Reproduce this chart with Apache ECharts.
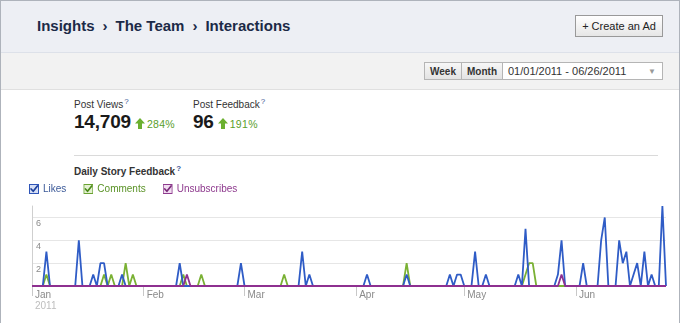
<!DOCTYPE html>
<html>
<head>
<meta charset="utf-8">
<script src="https://cdn.jsdelivr.net/npm/echarts@6/dist/echarts.min.js"></script>
<style>
  html, body { margin: 0; padding: 0; width: 680px; height: 323px; overflow: hidden; background: #fff;
    font-family: "Liberation Sans", Arial, sans-serif; }
  #page { position: absolute; left: 0; top: 0; width: 678px; height: 330px; border: 1px solid #aeb3bb; }
  #header { position: absolute; left: 0; top: 0; width: 678px; height: 51px; background: #edeff4;
    border-bottom: 1px solid #dde1e9; }
  #crumbs { position: absolute; left: 36px; top: 16px; font-size: 15px; font-weight: bold; color: #1c2a47;
    white-space: nowrap; }
  #crumbs .sep { font-weight: bold; margin: 0 8px; }
  #adBtn { position: absolute; left: 574px; top: 14px; width: 86px; height: 20px; border: 1px solid #999;
    background: linear-gradient(#ffffff, #e6e6e6); font-size: 11px; color: #222; text-align: center;
    line-height: 20px; box-sizing: content-box; }
  #toolbar { position: absolute; left: 0; top: 52px; width: 678px; height: 36px; background: #f2f2f2;
    border-bottom: 1px solid #e0e0e0; }
  .tb { position: absolute; top: 9px; height: 18px; border: 1px solid #b5b5b5; background: linear-gradient(#f7f7f7,#e3e3e3);
    font-size: 10px; font-weight: bold; color: #333; line-height: 18px; text-align: center; box-sizing: border-box; }
  #wk { left: 423px; width: 38px; }
  #mo { left: 460px; width: 42px; }
  #range { position: absolute; left: 501px; top: 9px; width: 161px; height: 18px; border: 1px solid #b5b5b5;
    background: #fff; font-size: 11px; color: #333; line-height: 17px; box-sizing: border-box; padding-left: 5px; }
  #range .arr { position: absolute; right: 6px; top: 0; font-size: 8px; color: #999; }
  .stat { position: absolute; top: 96px; }
  .stat .lbl { font-size: 10px; color: #333; white-space: nowrap; }
  .q { font-size: 8px; color: #3b5998; vertical-align: 4px; margin-left: 1px; }
  .stat .val { position: absolute; left: 0; top: 14px; font-size: 19px; font-weight: bold; color: #1a1a1a;
    white-space: nowrap; letter-spacing: -0.2px; }
  .up { display: inline-block; width: 10px; height: 11px; margin-left: 4px; vertical-align: -1px; }
  .pct { font-size: 10.5px; font-weight: normal; color: #5a9e2a; margin-left: 2px; letter-spacing: 0.3px; }
  #rule { position: absolute; left: 73px; top: 154px; width: 584px; height: 1px; background: #dadada; }
  #dsf { position: absolute; left: 73px; top: 163px; font-size: 10px; font-weight: bold; color: #333; white-space: nowrap; }
  #chart { position: absolute; left: 0; top: 178px; width: 680px; height: 145px; }
</style>
</head>
<body>
<div id="page">
  <div id="header">
    <div id="crumbs">Insights<span class="sep">›</span>The Team<span class="sep">›</span>Interactions</div>
    <div id="adBtn">+ Create an Ad</div>
  </div>
  <div id="toolbar">
    <div class="tb" id="wk">Week</div>
    <div class="tb" id="mo">Month</div>
    <div id="range">01/01/2011 - 06/26/2011<span class="arr">▼</span></div>
  </div>
  <div class="stat" style="left:73px">
    <div class="lbl">Post Views<span class="q">?</span></div>
    <div class="val">14,709<svg class="up" viewBox="0 0 10 11"><polygon points="5,0 10,5.5 7,5.5 7,11 3,11 3,5.5 0,5.5" fill="#6bb030"/></svg><span class="pct">284%</span></div>
  </div>
  <div class="stat" style="left:192px">
    <div class="lbl">Post Feedback<span class="q">?</span></div>
    <div class="val">96<svg class="up" viewBox="0 0 10 11"><polygon points="5,0 10,5.5 7,5.5 7,11 3,11 3,5.5 0,5.5" fill="#6bb030"/></svg><span class="pct">191%</span></div>
  </div>
  <div id="rule"></div>
  <div id="dsf">Daily Story Feedback<span class="q">?</span></div>
</div>
<div id="chart"></div>
<script>
// Months covered by the 01/01/2011 - 06/26/2011 range
const monthNames = ['Jan', 'Feb', 'Mar', 'Apr', 'May', 'Jun'];
const monthDays = [31, 28, 31, 30, 31, 26];
const yearLabel = '2011';

// Daily story feedback counts, one row per month
const likes = [
  0,0,0,0,3,0,0,0,0,0, 0,0,0,4,0,0,0,1,0,2, 2,0,0,0,0,1,0,0,0,0, 0,   // Jan
  0,0,0,0,0,0,0,0,0,0, 2,0,0,0,0,0,0,0,0,0, 0,0,0,0,0,0,0,2,          // Feb
  0,0,0,0,0,0,0,0,0,0, 0,0,0,0,0,0,3,0,1,0, 0,0,0,0,0,0,0,0,0,0, 0,   // Mar
  0,0,0,1,0,0,0,0,0,0, 0,0,0,0,1,0,0,0,0,0, 0,0,0,0,0,0,1,0,1,1,      // Apr
  0,0,0,3,0,0,1,0,0,0, 0,0,0,0,0,1,0,5,0,0, 0,0,0,0,0,0,1,4,0,0, 0,   // May
  0,0,2,0,0,0,0,4,6,0, 0,0,4,2,3,0,1,2,0,3, 0,1,0,0,7,0               // Jun
];
const comments = [
  0,0,0,0,1,0,0,0,0,0, 0,0,0,0,0,0,0,0,0,0, 1,0,1,0,0,0,2,0,1,0, 0,   // Jan
  0,0,0,0,0,0,0,0,0,0, 0,1,0,0,0,0,1,0,0,0, 0,0,0,0,0,0,0,0,          // Feb
  0,0,0,0,0,0,0,0,0,0, 0,1,0,0,0,0,0,0,0,0, 0,0,0,0,0,0,0,0,0,0, 0,   // Mar
  0,0,0,0,0,0,0,0,0,0, 0,0,0,0,2,0,0,0,0,0, 0,0,0,0,0,0,0,0,0,0,      // Apr
  0,0,0,0,0,0,0,0,0,0, 0,0,0,0,0,0,0,1,2,2, 0,0,0,0,0,0,0,0,0,0, 0,   // May
  0,0,0,0,0,0,0,0,0,0, 0,0,0,0,0,0,0,0,0,0, 0,0,0,0,0,0               // Jun
];
const unsubscribes = [
  0,0,0,0,0,0,0,0,0,0, 0,0,0,0,0,0,0,0,0,0, 0,0,0,0,0,0,0,0,0,0, 0,   // Jan
  0,0,0,0,0,0,0,0,0,0, 0,0,1,0,0,0,0,0,0,0, 0,0,0,0,0,0,0,0,          // Feb
  0,0,0,0,0,0,0,0,0,0, 0,0,0,0,0,0,0,0,0,0, 0,0,0,0,0,0,0,0,0,0, 0,   // Mar
  0,0,0,0,0,0,0,0,0,0, 0,0,0,0,0,0,0,0,0,0, 0,0,0,0,0,0,0,0,0,0,      // Apr
  0,0,0,0,0,0,0,0,0,0, 0,0,0,0,0,0,0,0,0,0, 0,0,0,0,0,0,0,1,0,0, 0,   // May
  0,0,0,0,0,0,0,0,0,0, 0,0,0,0,0,0,0,0,0,0, 0,0,0,0,0,0               // Jun
];
const yTicks = [2, 4, 6];

// Category per day, e.g. "Jan 1"
const days = [];
monthNames.forEach((m, i) => {
  for (let d = 1; d <= monthDays[i]; d++) days.push(m + ' ' + d);
});
const isMonthStart = (idx, value) => / 1$/.test(value);

function checkbox(border, fill, tick) {
  const svg = '<svg xmlns="http://www.w3.org/2000/svg" width="40" height="40" viewBox="0 0 10 10">' +
    '<rect x="0.5" y="0.5" width="9" height="9" fill="' + fill + '" stroke="' + border + '" stroke-width="1"/>' +
    '<path d="M2.1 5.0 L4.2 7.3 L8.4 1.9" fill="none" stroke="' + tick + '" stroke-width="1.7" stroke-linecap="round" stroke-linejoin="round"/>' +
    '</svg>';
  return 'image://data:image/svg+xml;charset=utf-8,' + encodeURIComponent(svg);
}

const chart = echarts.init(document.getElementById('chart'), null, { renderer: 'canvas' });
chart.setOption({
  animation: false,
  textStyle: { fontFamily: '"Liberation Sans", Arial, sans-serif' },
  legend: {
    left: 29, top: 6, padding: 0, itemWidth: 10, itemHeight: 10, itemGap: 17,
    textStyle: { fontSize: 10, padding: [0, 0, 0, -1] },
    selectedMode: false,
    data: [
      { name: 'Likes', icon: checkbox('#2f55b8', '#d5def5', '#1d3f9a'), textStyle: { color: '#3b5998' } },
      { name: 'Comments', icon: checkbox('#6aa232', '#e4f1d2', '#4c8a1c'), textStyle: { color: '#5a9226' } },
      { name: 'Unsubscribes', icon: checkbox('#8e3a8e', '#f0dcf0', '#7a2a7a'), textStyle: { color: '#8e3a8e' } }
    ]
  },
  grid: { left: 32, right: 14, top: 28, bottom: 37, containLabel: false },
  xAxis: {
    type: 'category',
    data: days,
    boundaryGap: false,
    axisLine: { show: false },
    axisTick: { show: true, interval: isMonthStart, length: 10, lineStyle: { color: '#c8c8c8' } },
    axisLabel: {
      interval: isMonthStart,
      align: 'left',
      margin: 4,
      padding: [0, 0, 0, 3],
      formatter: (value) => {
        const m = value.split(' ')[0];
        return m === monthNames[0] ? '{m|' + m + '}\n{y|' + yearLabel + '}' : '{m|' + m + '}';
      },
      rich: {
        m: { fontSize: 10, color: '#8a8a8a', lineHeight: 11 },
        y: { fontSize: 10, color: '#bdbdbd', lineHeight: 11 }
      }
    },
    splitLine: { show: false }
  },
  yAxis: {
    type: 'value',
    min: 0, max: 7, interval: 2,
    axisLine: { show: true, lineStyle: { color: '#cfcfcf' } },
    axisTick: { show: false },
    axisLabel: {
      inside: true, margin: 4, fontSize: 9, color: '#8a8a8a', verticalAlign: 'top', padding: [2, 0, 0, 0],
      formatter: (v) => yTicks.includes(v) ? String(v) : ''
    },
    splitLine: { show: true, showMinLine: false, showMaxLine: false, lineStyle: { color: '#e6e6e6' } }
  },
  series: [
    { name: 'Comments', type: 'line', data: comments, showSymbol: false, symbol: 'none', z: 2,
      itemStyle: { color: '#7ab134' }, lineStyle: { width: 1.8, color: '#7ab134' } },
    { name: 'Likes', type: 'line', data: likes, showSymbol: false, symbol: 'none', z: 3,
      itemStyle: { color: '#2f5cc6' }, lineStyle: { width: 1.8, color: '#2f5cc6' } },
    { name: 'Unsubscribes', type: 'line', data: unsubscribes, showSymbol: false, symbol: 'none', z: 4,
      itemStyle: { color: '#8e3090' }, lineStyle: { width: 1.8, color: '#8e3090' } }
  ]
});
</script>
</body>
</html>
